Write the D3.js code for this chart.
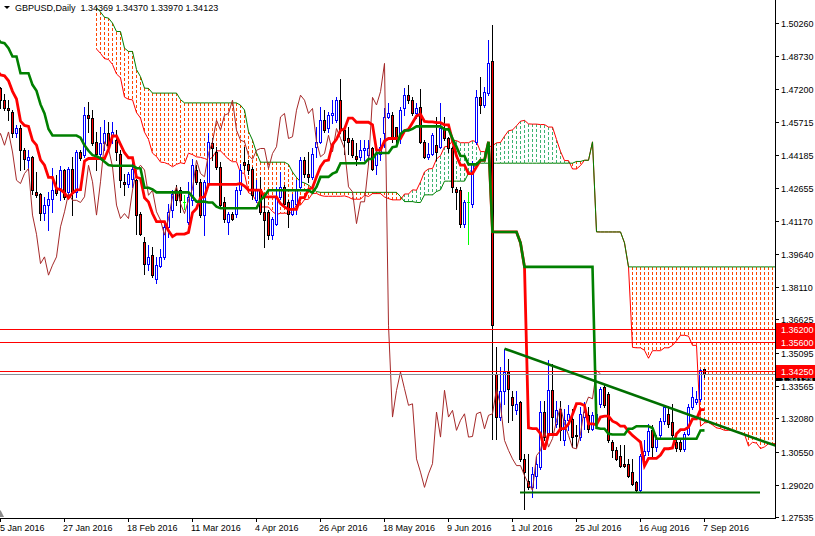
<!DOCTYPE html>
<html><head><meta charset="utf-8">
<script src="https://cdn.jsdelivr.net/npm/d3@7"></script>
<style>
body{margin:0;background:#fff}
svg{display:block}
text{font-family:"Liberation Sans",Arial,sans-serif;font-size:9px}
</style>
</head><body>
<svg id="c" width="815" height="536"></svg>
<script>
// ---------------- DATA ----------------
const symbolTitle = "GBPUSD,Daily";
const headerQuote = [1.34369, 1.34370, 1.33970, 1.34123];

// daily bars, 5 Jan 2016 .. 7 Sep 2016 (weekdays)
const opens = [
1.4724,1.4670,1.4632,1.4617,1.4517,1.4540,1.4443,1.4394,1.4410,1.4249,
1.4238,1.4152,1.4187,1.4218,1.4264,1.4256,1.4348,1.4249,1.4356,1.4249,
1.4432,1.4417,1.4601,1.4586,1.4478,1.4425,1.4471,1.4517,1.4509,1.4486,
1.4425,1.4294,1.4287,1.4310,1.4303,1.4146,1.4019,1.3919,1.3958,1.3850,
1.3907,1.3950,1.4088,1.4165,1.4256,1.4256,1.4200,1.4111,1.4210,1.4348,
1.4295,1.4142,1.4287,1.4471,1.4433,1.4364,1.4203,1.4111,1.4149,1.4149,
1.4257,1.4387,1.4379,1.4356,1.4210,1.4264,1.4157,1.4157,1.4050,1.4103,
1.4226,1.4272,1.4203,1.4149,1.4195,1.4272,1.4394,1.4333,1.4318,1.4456,
1.4479,1.4578,1.4540,1.4601,1.4578,1.4670,1.4532,1.4494,1.4486,1.4413,
1.4410,1.4440,1.4420,1.4448,1.4371,1.4425,1.4517,1.4593,1.4601,1.4548,
1.4502,1.4632,1.4693,1.4670,1.4609,1.4637,1.4479,1.4410,1.4425,1.4463,
1.4456,1.4540,1.4494,1.4448,1.4264,1.4256,1.4103,1.4203,1.4195,1.4480,
1.4683,1.4648,1.4701,1.4851,1.3413,1.3214,1.3336,1.3421,1.3306,1.3245,
1.3283,1.3022,1.2922,1.2891,1.2945,1.2984,1.3237,1.3137,1.3337,1.3183,
1.3252,1.3107,1.3199,1.3206,1.3130,1.3122,1.3214,1.3222,1.3160,1.3191,
1.3275,1.3352,1.3321,1.3099,1.3061,1.3037,1.2999,1.2999,1.2961,1.2915,
1.2877,1.3040,1.3060,1.3153,1.3076,1.3130,1.3198,1.3229,1.3191,1.3099,
1.3099,1.3068,1.3137,1.3260,1.3283,1.3298,1.34369];
const highs = [
1.4730,1.4700,1.4670,1.4624,1.4555,1.4555,1.4452,1.4443,1.4413,1.4340,
1.4245,1.4226,1.4248,1.4360,1.4325,1.4366,1.4356,1.4364,1.4410,1.4440,
1.4443,1.4640,1.4663,1.4624,1.4524,1.4547,1.4578,1.4570,1.4570,1.4532,
1.4440,1.4333,1.4340,1.4394,1.4310,1.4157,1.4042,1.4004,1.3996,1.3950,
1.3988,1.4103,1.4195,1.4256,1.4279,1.4272,1.4233,1.4295,1.4402,1.4371,
1.4310,1.4302,1.4517,1.4494,1.4456,1.4387,1.4226,1.4157,1.4157,1.4272,
1.4379,1.4456,1.4394,1.4364,1.4302,1.4318,1.4226,1.4165,1.4134,1.4272,
1.4341,1.4280,1.4210,1.4241,1.4302,1.4410,1.4410,1.4433,1.4448,1.4548,
1.4640,1.4624,1.4616,1.4670,1.4686,1.4766,1.4540,1.4548,1.4494,1.4471,
1.4486,1.4486,1.4486,1.4456,1.4456,1.4494,1.4632,1.4655,1.4616,1.4548,
1.4640,1.4724,1.4739,1.4686,1.4655,1.4720,1.4486,1.4471,1.4517,1.4594,
1.4655,1.4594,1.4502,1.4456,1.4272,1.4272,1.4210,1.4249,1.4390,1.4718,
1.4777,1.4732,1.4946,1.5015,1.3536,1.3444,1.3528,1.3482,1.3336,1.3336,
1.3290,1.3045,1.3045,1.2984,1.3030,1.3290,1.3290,1.3475,1.3459,1.3290,
1.3290,1.3252,1.3268,1.3252,1.3176,1.3260,1.3283,1.3260,1.3237,1.3250,
1.3352,1.3360,1.3329,1.3107,1.3076,1.3084,1.3084,1.3022,1.3022,1.2922,
1.3045,1.3110,1.3180,1.3176,1.3130,1.3210,1.3268,1.3265,1.3275,1.3114,
1.3107,1.3145,1.3275,1.3352,1.3336,1.3436,1.34370];
const lows = [
1.4632,1.4624,1.4578,1.4501,1.4501,1.4348,1.4356,1.4348,1.4241,1.4226,
1.4121,1.4118,1.4075,1.4157,1.4233,1.4210,1.4218,1.4226,1.4141,1.4226,
1.4394,1.4410,1.4524,1.4463,1.4348,1.4410,1.4440,1.4448,1.4471,1.4394,
1.4271,1.4233,1.4271,1.4271,1.4054,1.4050,1.3873,1.3888,1.3858,1.3830,
1.3904,1.3942,1.4042,1.4134,1.4188,1.4157,1.4172,1.4103,1.4188,1.4287,
1.4134,1.4050,1.4272,1.4394,1.4356,1.4180,1.4111,1.4057,1.4118,1.4134,
1.4241,1.4356,1.4333,1.4218,1.4203,1.4149,1.3995,1.4034,1.4034,1.4096,
1.4218,1.4188,1.4088,1.4142,1.4149,1.4264,1.4318,1.4295,1.4310,1.4410,
1.4471,1.4524,1.4524,1.4563,1.4570,1.4517,1.4425,1.4425,1.4410,1.4371,
1.4394,1.4394,1.4379,1.4348,1.4333,1.4394,1.4456,1.4586,1.4479,1.4471,
1.4471,1.4601,1.4655,1.4601,1.4586,1.4471,1.4406,1.4402,1.4417,1.4394,
1.4448,1.4486,1.4433,1.4249,1.4172,1.4088,1.4088,1.4011,1.4180,1.4470,
1.4609,1.4640,1.4694,1.3115,1.3114,1.3199,1.3275,1.3191,1.3199,1.3229,
1.3014,1.2793,1.2884,1.2846,1.2890,1.2976,1.3107,1.3130,1.3137,1.3168,
1.3107,1.3084,1.3153,1.3076,1.3076,1.3107,1.3160,1.3145,1.3153,1.3180,
1.3260,1.3260,1.3099,1.3030,1.3015,1.2984,1.2984,1.2938,1.2900,1.2869,
1.2869,1.3000,1.3040,1.3037,1.3060,1.3120,1.3183,1.3168,1.3122,1.3060,
1.3060,1.3060,1.3130,1.3252,1.3275,1.3290,1.33970];
const closes = [
1.4670,1.4632,1.4624,1.4517,1.4540,1.4440,1.4402,1.4410,1.4256,1.4233,
1.4152,1.4187,1.4218,1.4256,1.4244,1.4348,1.4226,1.4356,1.4244,1.4432,
1.4406,1.4601,1.4586,1.4471,1.4425,1.4471,1.4517,1.4463,1.4524,1.4432,
1.4302,1.4287,1.4333,1.4356,1.4142,1.4054,1.3919,1.3950,1.3866,1.3912,
1.3950,1.4088,1.4157,1.4241,1.4210,1.4210,1.4200,1.4226,1.4371,1.4295,
1.4142,1.4295,1.4479,1.4448,1.4364,1.4188,1.4126,1.4149,1.4126,1.4257,
1.4349,1.4371,1.4349,1.4233,1.4256,1.4157,1.4119,1.4050,1.4126,1.4226,
1.4272,1.4195,1.4149,1.4210,1.4264,1.4394,1.4333,1.4318,1.4425,1.4479,
1.4578,1.4532,1.4601,1.4609,1.4670,1.4532,1.4486,1.4479,1.4417,1.4398,
1.4440,1.4448,1.4448,1.4356,1.4425,1.4456,1.4593,1.4609,1.4494,1.4502,
1.4624,1.4693,1.4670,1.4609,1.4632,1.4479,1.4410,1.4425,1.4509,1.4433,
1.4540,1.4494,1.4448,1.4272,1.4249,1.4103,1.4203,1.4203,1.4376,1.4683,
1.4648,1.4709,1.4839,1.3636,1.3214,1.3336,1.3421,1.3344,1.3268,1.3275,
1.3022,1.2961,1.2891,1.2953,1.3000,1.3237,1.3122,1.3337,1.3214,1.3245,
1.3153,1.3199,1.3229,1.3122,1.3125,1.3229,1.3237,1.3160,1.3222,1.3229,
1.3344,1.3268,1.3107,1.3061,1.3022,1.2991,1.2991,1.2945,1.2907,1.2877,
1.3037,1.3060,1.3150,1.3076,1.3115,1.3198,1.3260,1.3183,1.3130,1.3073,
1.3068,1.3137,1.3260,1.3306,1.3298,1.3428,1.34123];

// earlier bars (14 Sep 2015 .. 4 Jan 2016), off-screen, feed the Ichimoku look-back
const preHighs = [
1.5460,1.5450,1.5510,1.5659,1.5630,1.5570,1.5500,1.5360,1.5290,1.5280,1.5230,1.5210,1.5180,
1.5190,1.5200,1.5230,1.5300,1.5340,1.5380,1.5380,1.5360,1.5330,1.5470,1.5509,1.5490,1.5500,
1.5480,1.5470,1.5470,1.5400,1.5360,1.5340,1.5370,1.5350,1.5440,
1.5470,1.5440,1.5440,1.5380,1.5230,1.5130,1.5190,1.5230,1.5250,1.5270,1.5230,1.5260,1.5260,
1.5330,1.5270,1.5200,1.5190,1.5170,1.5120,1.5100,1.5090,
1.5100,1.5060,1.5140,1.5150,1.5130,1.5060,1.5180,1.5190,1.5240,1.5200,1.5180,1.5100,1.5000,
1.4940,1.4940,1.4920,1.4860,1.4930,1.4920,1.4940,1.4920,1.4850,1.4800,
1.4760,1.4750];
const preLows = [
1.5390,1.5330,1.5350,1.5470,1.5520,1.5450,1.5330,1.5200,1.5160,1.5180,1.5160,1.5120,1.5107,
1.5110,1.5110,1.5150,1.5150,1.5250,1.5270,1.5290,1.5280,1.5190,1.5210,1.5410,1.5430,1.5430,
1.5400,1.5400,1.5370,1.5280,1.5290,1.5260,1.5240,1.5240,1.5270,
1.5380,1.5390,1.5350,1.5180,1.5026,1.5030,1.5070,1.5170,1.5180,1.5200,1.5160,1.5190,1.5190,
1.5230,1.5170,1.5100,1.5090,1.5060,1.5060,1.5030,1.5010,
1.4990,1.4900,1.4920,1.5050,1.5020,1.4990,1.5000,1.5110,1.5150,1.5120,1.5050,1.4950,1.4880,
1.4860,1.4850,1.4820,1.4810,1.4840,1.4880,1.4870,1.4830,1.4770,1.4720,
1.4730,1.4680];

const priceTicks = [1.50260,1.48730,1.47200,1.45715,1.44185,1.42655,1.41170,1.39640,
  1.38110,1.36625,1.35095,1.33565,1.32080,1.30550,1.29020,1.27535];
const dateTickLabels = ["5 Jan 2016","27 Jan 2016","18 Feb 2016","11 Mar 2016","4 Apr 2016",
  "26 Apr 2016","18 May 2016","9 Jun 2016","1 Jul 2016","25 Jul 2016","16 Aug 2016","7 Sep 2016"];
const dateTickBars = [0,16,32,48,64,80,96,112,128,144,160,176];

const levelLines = [1.36200, 1.35600, 1.34250];
const bidPrice = 1.34123;
const trendPoints = [[126, 1.3528], [176, 1.3200]];
const supportLine = [[130, 1.2869], [190, 1.2869]];
const ichimokuPeriods = [9, 26, 52];

// ---------------- CHART ----------------
const plotR = 775, plotB = 518;
const svg = d3.select("#c");
const x = d3.scaleLinear().domain([0, 176]).range([0, 704]);
const y = d3.scaleLinear().domain([1.27535, 1.50260]).range([517.3, 22.7]);
const px = i => Math.round(x(i));
const py = v => Math.round(y(v));

const defs = svg.append("defs");
defs.append("clipPath").attr("id","plot")
  .append("rect").attr("x",0).attr("y",0).attr("width",plotR).attr("height",plotB);
const g = svg.append("g").attr("clip-path","url(#plot)");

// Ichimoku
const nPre = preHighs.length;
const HH = preHighs.concat(highs), LL = preLows.concat(lows);
function mid(i, n){
  const gi = i + nPre;
  if (gi - n + 1 < 0 || gi >= HH.length) return null;
  let hh = -Infinity, ll = Infinity;
  for (let t = gi - n + 1; t <= gi; t++){ hh = Math.max(hh, HH[t]); ll = Math.min(ll, LL[t]); }
  return (hh + ll) / 2;
}
const [pT, pK, pB] = ichimokuPeriods;
const last = closes.length - 1;
const tenkan = [], kijun = [], spanA = [], spanB = [], chikou = [];
for (let i = -2; i <= last; i++){
  tenkan.push([i, mid(i, pT)]);
  kijun.push([i, mid(i, pK)]);
  const a = (mid(i, pT) + mid(i, pK)) / 2, b = mid(i, pB);
  spanA.push([i + pK, a]);
  spanB.push([i + pK, b]);
}
for (let i = -2; i + pK <= last; i++){ if (i + pK >= 0) chikou.push([i, closes[i + pK]]); }

const line = d3.line().x(d => px(d[0]) + 0.5).y(d => y(d[1]));

// cloud hatch
spanA.forEach((d, idx) => {
  const a = d[1], b = spanB[idx][1];
  const y1 = Math.min(y(a), y(b)), y2 = Math.max(y(a), y(b));
  g.append("line").attr("x1", px(d[0]) + 0.5).attr("x2", px(d[0]) + 0.5)
    .attr("y1", y1).attr("y2", y2)
    .attr("stroke", b > a ? "#FF4500" : "#3CB371").attr("stroke-width", 1)
    .attr("stroke-dasharray", "3,2").attr("shape-rendering","crispEdges");
});
g.append("path").datum(spanA).attr("d", line).attr("fill","none").attr("stroke","#FF0000").attr("stroke-width",1);
g.append("path").datum(spanB).attr("d", line).attr("fill","none").attr("stroke","#008000").attr("stroke-width",1);

// candles
const cg = g.append("g").attr("shape-rendering","crispEdges");
closes.forEach((c, i) => {
  const o = opens[i], h = highs[i], l = lows[i];
  const cx = px(i);
  const doji = o === c;
  const bull = c > o;
  const edge = doji ? "#00FF00" : (bull ? "#0000FF" : "#000000");
  cg.append("rect").attr("x", cx).attr("y", py(h)).attr("width", 1).attr("height", Math.max(1, py(l) - py(h) + 1)).attr("fill", edge);
  if (doji){
    cg.append("rect").attr("x", cx - 1).attr("y", py(o)).attr("width", 3).attr("height", 1).attr("fill", edge);
    return;
  }
  const top = py(Math.max(o, c)), bot = py(Math.min(o, c));
  const hgt = Math.max(1, bot - top + 1);
  cg.append("rect").attr("x", cx - 1).attr("y", top).attr("width", 3).attr("height", hgt).attr("fill", edge);
  if (hgt > 2) cg.append("rect").attr("x", cx).attr("y", top + 1).attr("width", 1).attr("height", hgt - 2)
    .attr("fill", bull ? "#FFFFFF" : "#FF0000");
});

// chikou, tenkan, kijun
g.append("path").datum(chikou).attr("d", line).attr("fill","none").attr("stroke","#A52A2A").attr("stroke-width",1);
g.append("path").datum(tenkan).attr("d", line).attr("fill","none").attr("stroke","#FF0000").attr("stroke-width",2.8);
g.append("path").datum(kijun).attr("d", line).attr("fill","none").attr("stroke","#008000").attr("stroke-width",2.6);

// horizontal level lines and bid line
levelLines.forEach(v => g.append("line").attr("x1",0).attr("x2",plotR).attr("y1",py(v)+0.5).attr("y2",py(v)+0.5)
  .attr("stroke","#FF0000").attr("stroke-width",1));
g.append("line").attr("x1",0).attr("x2",plotR).attr("y1",py(bidPrice)+0.5).attr("y2",py(bidPrice)+0.5)
  .attr("stroke","#8A8F98").attr("stroke-width",1);

// trend line (ray) and support line
const [t1, t2] = trendPoints;
const slope = (t2[1] - t1[1]) / (t2[0] - t1[0]);
const endBar = x.invert(plotR + 2);
g.append("line").attr("x1", px(t1[0]) + 0.5).attr("y1", y(t1[1]))
  .attr("x2", x(endBar)).attr("y2", y(t1[1] + slope * (endBar - t1[0])))
  .attr("stroke","#006F00").attr("stroke-width",2.6);
g.append("line").attr("x1", px(supportLine[0][0])).attr("y1", py(supportLine[0][1]) + 0.5)
  .attr("x2", px(supportLine[1][0])).attr("y2", py(supportLine[1][1]) + 0.5)
  .attr("stroke","#006F00").attr("stroke-width",2);

// axes frame
svg.append("line").attr("x1",plotR+0.5).attr("x2",plotR+0.5).attr("y1",0).attr("y2",plotB+1).attr("stroke","#000");
svg.append("line").attr("x1",0).attr("x2",plotR+1).attr("y1",plotB+0.5).attr("y2",plotB+0.5).attr("stroke","#000");

// price axis
priceTicks.forEach(v => {
  svg.append("line").attr("x1",plotR).attr("x2",plotR+4).attr("y1",py(v)+0.5).attr("y2",py(v)+0.5).attr("stroke","#000");
  svg.append("text").attr("x",781).attr("y",py(v)+3.5).attr("fill","#000").text(v.toFixed(5));
});

// bid label: mostly hidden under the 1.34250 box, only its lower strip shows
const redBottom = py(levelLines[2]) + 7, bidBottom = py(bidPrice) + 7;
svg.append("rect").attr("x",776).attr("y",redBottom).attr("width",39).attr("height",Math.max(2, bidBottom - redBottom)).attr("fill","#000");
svg.append("text").attr("x",781).attr("y",bidBottom - 0.3).attr("fill","#FFF")
  .style("font-size","3.4px").attr("textLength",32).attr("lengthAdjust","spacingAndGlyphs")
  .text(bidPrice.toFixed(5));

// level labels
levelLines.forEach(v => {
  svg.append("rect").attr("x",776).attr("y",py(v)-6).attr("width",39).attr("height",13).attr("fill","#FF0000");
  svg.append("text").attr("x",781).attr("y",py(v)+3.5).attr("fill","#FFF").text(v.toFixed(5));
});

// date axis
dateTickBars.forEach((b, k) => {
  svg.append("line").attr("x1",px(b)+0.5).attr("x2",px(b)+0.5).attr("y1",plotB).attr("y2",plotB+4).attr("stroke","#000");
  svg.append("text").attr("x",Math.max(0, px(b)-1)).attr("y",531).attr("fill","#000").text(dateTickLabels[k]);
});

// header
svg.append("path").attr("d","M4,6 L10,6 L7,9 Z").attr("fill","#000");
svg.append("text").attr("x",15).attr("y",11).attr("fill","#000").style("white-space","pre")
  .text(symbolTitle + "  " + headerQuote.map(v => v.toFixed(5)).join(" "));
// chart shift marker
svg.append("path").attr("d","M-3,517 L4,517 L0.5,510 Z").attr("fill","#8C8C8C");
</script>
</body></html>
